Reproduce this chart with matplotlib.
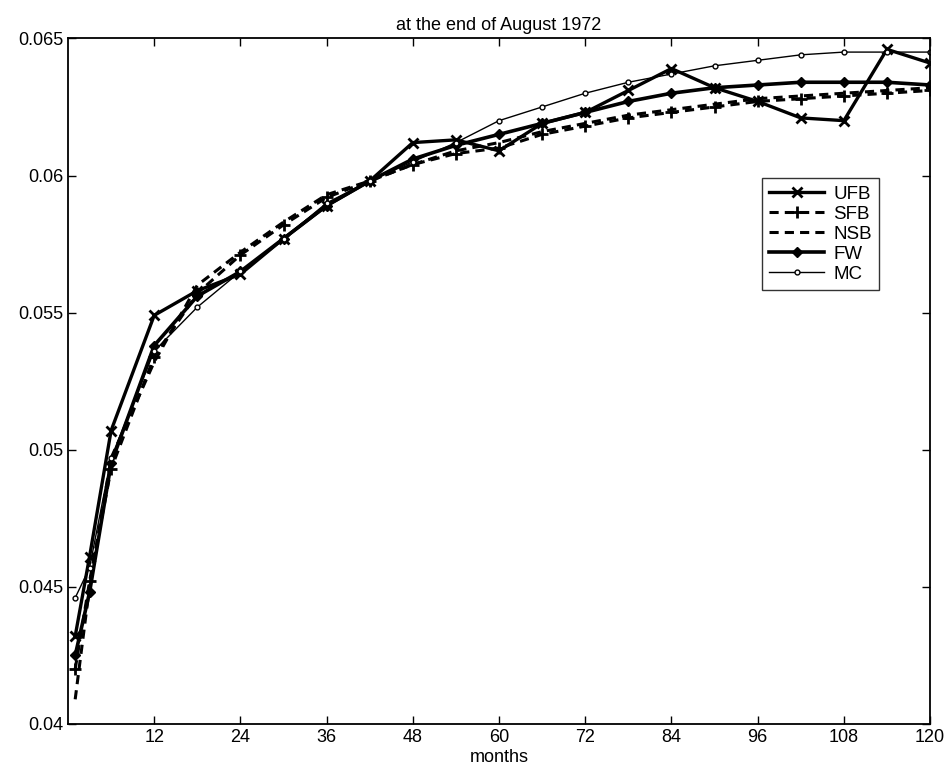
import matplotlib
matplotlib.use("Agg")
import matplotlib.pyplot as plt

plt.rcParams['font.family'] = ['Liberation Sans', 'DejaVu Sans']

months = [1, 3, 6, 12, 18, 24, 30, 36, 42, 48, 54, 60, 66, 72, 78, 84, 90, 96, 102, 108, 114, 120]

ufb = [0.0432, 0.0461, 0.0507, 0.0549, 0.0558, 0.0564, 0.0577, 0.0589, 0.0598, 0.0612, 0.0613,
       0.0609, 0.0619, 0.0623, 0.0631, 0.0639, 0.0632, 0.0627, 0.0621, 0.0620, 0.0646, 0.0641]
sfb = [0.0420, 0.0452, 0.0493, 0.0534, 0.0557, 0.0571, 0.0582, 0.0592, 0.0598, 0.0604, 0.0608,
       0.0610, 0.0615, 0.0618, 0.0621, 0.0623, 0.0625, 0.0627, 0.0628, 0.0629, 0.0630, 0.0631]
nsb = [0.0409, 0.0450, 0.0497, 0.0532, 0.0560, 0.0572, 0.0583, 0.0593, 0.0598, 0.0604, 0.0609,
       0.0612, 0.0616, 0.0619, 0.0622, 0.0624, 0.0626, 0.0628, 0.0629, 0.0630, 0.0631, 0.0632]
fw = [0.0425, 0.0448, 0.0495, 0.0538, 0.0556, 0.0565, 0.0577, 0.0589, 0.0598, 0.0606, 0.0611,
      0.0615, 0.0619, 0.0623, 0.0627, 0.0630, 0.0632, 0.0633, 0.0634, 0.0634, 0.0634, 0.0633]
mc = [0.0446, 0.0457, 0.0497, 0.0536, 0.0552, 0.0565, 0.0577, 0.0590, 0.0598, 0.0605, 0.0612,
      0.0620, 0.0625, 0.0630, 0.0634, 0.0637, 0.0640, 0.0642, 0.0644, 0.0645, 0.0645, 0.0645]

xticks = [12, 24, 36, 48, 60, 72, 84, 96, 108, 120]
yticks = [0.04, 0.045, 0.05, 0.055, 0.06, 0.065]
ytick_labels = ['0.04', '0.045', '0.05', '0.055', '0.06', '0.065']

fig = plt.figure(figsize=(9.51, 7.8), dpi=100)
ax = fig.add_axes([0.0715, 0.0718, 0.9065, 0.879])

ax.plot(months, ufb, color='black', lw=2.4, marker='x', ms=7, mew=2, label='UFB')
ax.plot(months, sfb, color='black', lw=2.2, ls='--', dashes=(3, 2), marker='+', ms=8, mew=2, label='SFB')
ax.plot(months, nsb, color='black', lw=2.2, ls='--', dashes=(3, 2), label='NSB')
ax.plot(months, fw, color='black', lw=2.6, marker='D', ms=5, label='FW')
ax.plot(months, mc, color='black', lw=1.0, marker='o', ms=3.5, mfc='white', mew=1, label='MC')

ax.set_xlim(0, 120)
ax.set_ylim(0.04, 0.065)
ax.set_xticks(xticks)
ax.set_xticklabels([str(t) for t in xticks])
ax.set_yticks(yticks)
ax.set_yticklabels(ytick_labels)
ax.tick_params(direction='in', top=True, right=True, labelsize=13, length=6, width=1)
for s in ax.spines.values():
    s.set_linewidth(1.3)

ax.set_title('at the end of August 1972', fontsize=13, pad=6)
ax.set_xlabel('months', fontsize=13, labelpad=2)

leg = ax.legend(loc='upper left', bbox_to_anchor=(0.805, 0.796), fontsize=13.5,
                frameon=True, fancybox=False, edgecolor='black', handlelength=2.9,
                handletextpad=0.5, borderpad=0.4, labelspacing=0.15, borderaxespad=0)
leg.get_frame().set_linewidth(1.0)

fig.savefig('out.png', dpi=100)
